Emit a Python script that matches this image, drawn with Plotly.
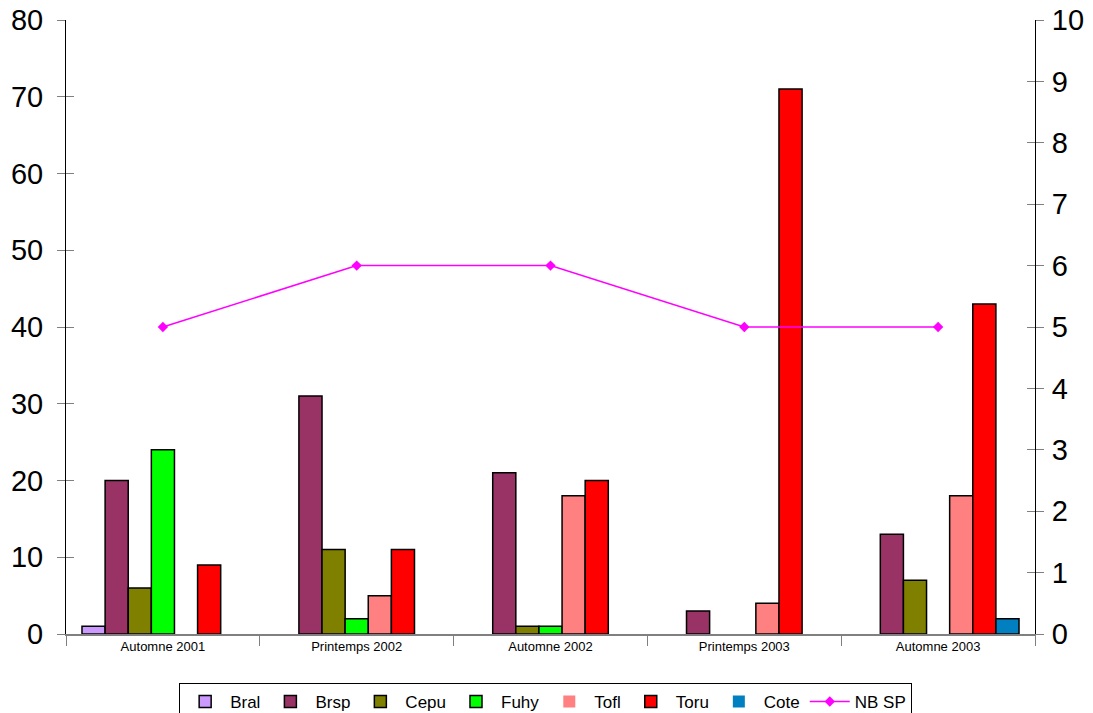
import plotly.graph_objects as go

categories = ["Automne 2001", "Printemps 2002", "Automne 2002", "Printemps 2003", "Automne 2003"]

bral = [1, 0, 0, 0, 0]
brsp = [20, 31, 21, 3, 13]
cepu = [6, 11, 1, 0, 7]
fuhy = [24, 2, 1, 0, 0]
tofl = [0, 5, 18, 4, 18]
toru = [9, 11, 20, 71, 43]
cote = [0, 0, 0, 0, 2]
nb_sp = [5, 6, 6, 5, 5]

series = [
    ("Bral", bral, "#CC99FF"),
    ("Brsp", brsp, "#993366"),
    ("Cepu", cepu, "#808000"),
    ("Fuhy", fuhy, "#00FF00"),
    ("Tofl", tofl, "#FF8080"),
    ("Toru", toru, "#FF0000"),
    ("Cote", cote, "#0080C0"),
]

fig = go.Figure()
for name, vals, col in series:
    # no outline on empty bars (Excel draws nothing there)
    widths = [1.5 if v else 0 for v in vals]
    fig.add_trace(go.Bar(
        x=categories, y=vals, name=name,
        marker=dict(color=col, line=dict(color="black", width=widths)),
    ))

fig.add_trace(go.Scatter(
    x=categories, y=nb_sp, name="NB SP", yaxis="y2",
    mode="lines+markers",
    line=dict(color="#FF00FF", width=1.5),
    marker=dict(symbol="diamond", size=8, color="#FF00FF"),
))

# invisible traces to bring up the inner half of the crossing ticks
fig.add_trace(go.Scatter(x=categories, y=nb_sp, yaxis="y3",
                         mode="none", showlegend=False, hoverinfo="skip"))
fig.add_trace(go.Scatter(x=categories, y=nb_sp, yaxis="y4",
                         mode="none", showlegend=False, hoverinfo="skip"))

font = "Liberation Sans, Arial, sans-serif"
# page body has an 8px margin, so the figure is sized to fit the window
fig.update_layout(
    width=1085, height=705,
    paper_bgcolor="white", plot_bgcolor="white",
    barmode="group", bargap=0.165, bargroupgap=0,
    margin=dict(l=58, r=58, t=12, b=79, autoexpand=False),
    font=dict(family=font, color="black"),
    xaxis=dict(
        type="category", tickson="boundaries", ticks="outside", ticklen=10,
        tickcolor="#808080", showline=True, linecolor="#808080", linewidth=1.5,
        tickfont=dict(size=13), showgrid=False, zeroline=False, automargin=False,
    ),
    yaxis=dict(
        range=[0, 80], dtick=10, showline=True, linecolor="black", linewidth=1,
        ticks="outside", ticklen=8, tickcolor="#808080", showgrid=False,
        zeroline=False, tickfont=dict(size=29), automargin=False,
        ticklabelstandoff=8, ticklabeloverflow="allow",
    ),
    yaxis2=dict(
        range=[0, 10], dtick=1, overlaying="y", side="right", showline=True,
        linecolor="black", linewidth=1, ticks="outside", ticklen=8,
        tickcolor="#808080", showgrid=False, zeroline=False, tickfont=dict(size=29),
        automargin=False, ticklabelstandoff=2, ticklabeloverflow="allow",
    ),
    yaxis3=dict(
        range=[0, 80], dtick=10, overlaying="y", side="left", ticks="inside",
        ticklen=8, tickcolor="#808080", showticklabels=False, showgrid=False,
        zeroline=False, showline=False, automargin=False,
    ),
    yaxis4=dict(
        range=[0, 10], dtick=1, overlaying="y", side="right", ticks="inside",
        ticklen=8, tickcolor="#808080", showticklabels=False, showgrid=False,
        zeroline=False, showline=False, automargin=False,
    ),
    legend=dict(
        orientation="h", x=0.495, xanchor="center", y=-0.0798, yanchor="top",
        bordercolor="black", borderwidth=1, font=dict(size=17),
        traceorder="normal", itemwidth=40,
    ),
)

fig.write_html("out.html")
